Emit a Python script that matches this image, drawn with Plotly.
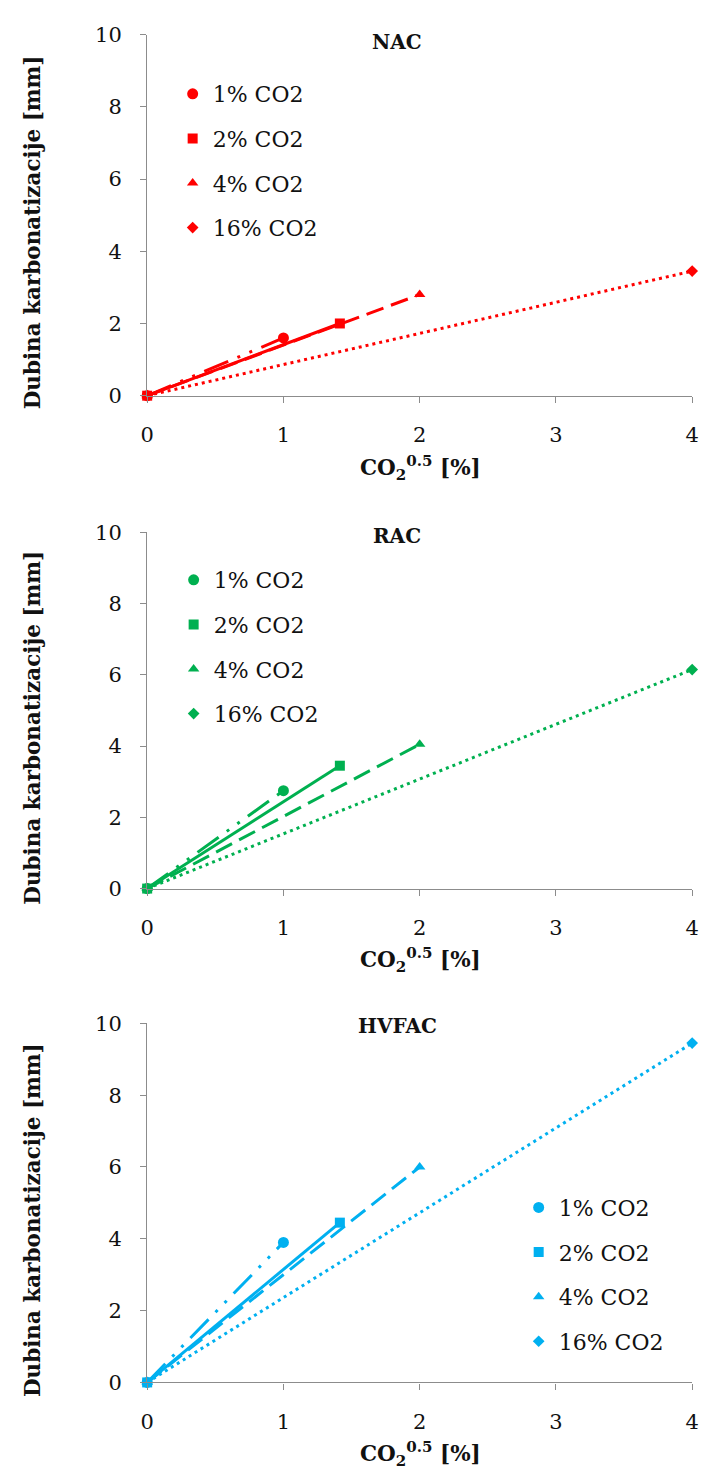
import plotly.graph_objects as go
import math

# ---- data ----
concentrations = [1, 2, 4, 16]              # % CO2
series_names = ["1% CO2", "2% CO2", "4% CO2", "16% CO2"]
x_sqrt = [math.sqrt(c) for c in concentrations]   # CO2^0.5
nac_depth = [1.6, 2.0, 2.8, 3.45]
rac_depth = [2.75, 3.45, 4.05, 6.15]
hvfac_depth = [3.9, 4.45, 6.0, 9.45]
panel_titles = ["NAC", "RAC", "HVFAC"]
panel_colors = ["#FF0000", "#00B050", "#00B0F0"]
x_ticks = [0, 1, 2, 3, 4]
y_ticks = [0, 2, 4, 6, 8, 10]

W, H = 708, 1482
FONT = "DejaVu Serif"
TXT = "#111111"
GREY = "#8c8c8c"

symbols = ["circle", "square", "triangle-up", "diamond"]
msizes = [11, 10, 10, 9]
dashes = ["26px,10px,3px,10px,3px,10px", "solid", "18px,8px", "3px,4px"]

# pixel layout of each panel: (top y of 10, bottom y of 0)
panels_px = [(23, 390), (529, 891), (1028, 1393)]
x_px = (143, 699)

def py(p):
    return 1 - p / H

fig = go.Figure()
depths = [nac_depth, rac_depth, hvfac_depth]
legend_pos = [(169, 62), (170, 556), (522, 1194)]
title_ys = [31, 533, 1031]
marker_order = [3, 2, 0, 1]   # 2% markers end on top at the origin

for k in range(3):
    ax = "" if k == 0 else str(k + 1)
    xa, ya = "x" + ax, "y" + ax
    leg = "legend" if k == 0 else "legend" + str(k + 1)
    col = panel_colors[k]
    for i in range(4):
        fig.add_trace(go.Scatter(
            x=[0, x_sqrt[i]], y=[0, depths[k][i]], mode="lines",
            line=dict(color=col, width=3, dash=dashes[i]),
            xaxis=xa, yaxis=ya, showlegend=False, cliponaxis=False,
            hoverinfo="skip"))
    for i in marker_order:
        fig.add_trace(go.Scatter(
            x=[0, x_sqrt[i]], y=[0, depths[k][i]], mode="markers",
            marker=dict(color=col, symbol=symbols[i], size=msizes[i]),
            name=series_names[i], xaxis=xa, yaxis=ya, legend=leg,
            legendrank=i + 1, legendgroup=f"g{k}{i}", cliponaxis=False))

    top, bot = panels_px[k]
    xdom = [x_px[0] / W, x_px[1] / W]
    ydom = [py(bot), py(top)]
    axis_common = dict(showgrid=False, zeroline=False, showline=True,
                       linecolor=GREY, linewidth=1.3, ticks="outside",
                       tickcolor=GREY, ticklen=6, tickwidth=1.3,
                       tickfont=dict(family=FONT, size=21, color=TXT))
    fig.update_layout(**{
        "xaxis" + ax: dict(domain=xdom, range=[0, 4], tickvals=x_ticks,
                           anchor=ya, ticklabelstandoff=14, **axis_common),
        "yaxis" + ax: dict(domain=ydom, range=[0, 10], tickvals=y_ticks,
                           anchor=xa, ticklabelstandoff=14, **axis_common),
    })
    lx, ly = legend_pos[k]
    fig.update_layout(**{leg: dict(
        x=lx / W, y=py(ly), xanchor="left", yanchor="top",
        font=dict(family=FONT, size=22, color=TXT),
        bgcolor="rgba(0,0,0,0)", borderwidth=0, tracegroupgap=13,
        itemsizing="trace", traceorder="grouped")})
    # panel title
    fig.add_annotation(text="<b>" + panel_titles[k] + "</b>", x=398 / W,
                       y=py(title_ys[k]), xref="paper", yref="paper",
                       showarrow=False, xanchor="center", yanchor="middle",
                       font=dict(family=FONT, size=20, color=TXT))
    # x axis title
    fig.add_annotation(text="<b>CO<sub>2</sub><sup>0.5</sup> [%]</b>",
                       x=422 / W, y=py(bot + 73), xref="paper", yref="paper",
                       showarrow=False, xanchor="center", yanchor="middle",
                       font=dict(family=FONT, size=21.5, color=TXT))
    # y axis title
    fig.add_annotation(text="<b>Dubina karbonatizacije [mm]</b>",
                       x=26 / W, y=py((top + bot) / 2 + 17), xref="paper",
                       yref="paper", showarrow=False, textangle=-90,
                       xanchor="center", yanchor="middle",
                       font=dict(family=FONT, size=21.5, color=TXT))

fig.update_layout(width=W, height=H, margin=dict(l=0, r=0, t=0, b=0),
                  paper_bgcolor="white", plot_bgcolor="white")
fig.write_html("out.html")
